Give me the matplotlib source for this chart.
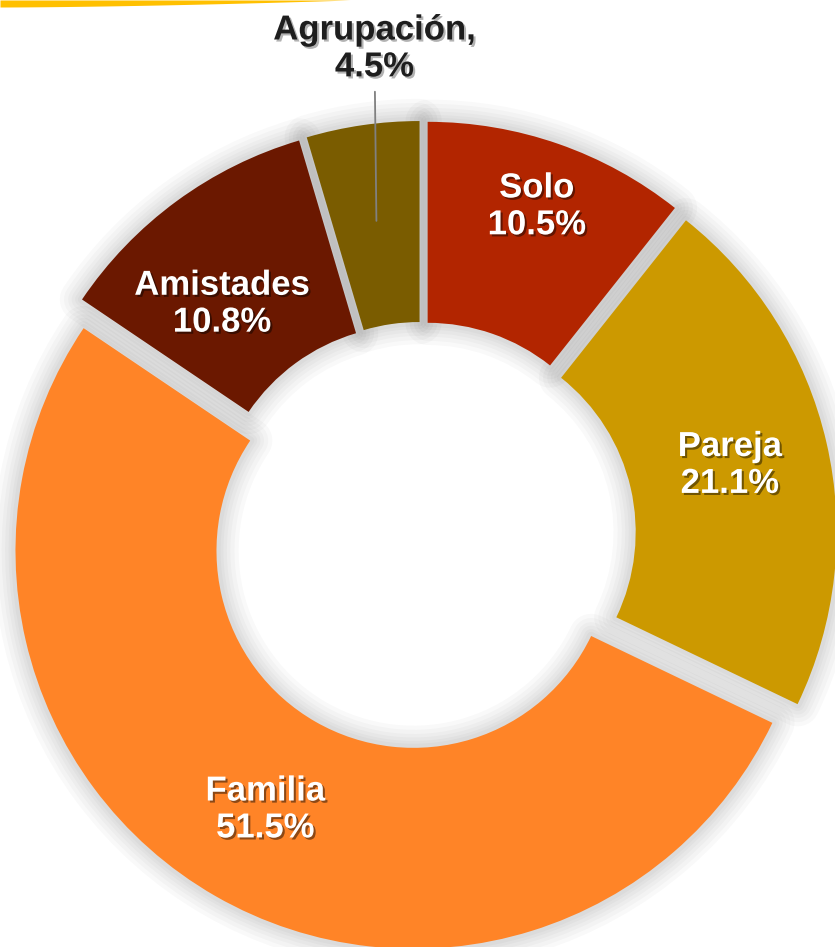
import numpy as np
import matplotlib.pyplot as plt
import matplotlib.patheffects as pe

# Datos
categorias = ["Solo", "Pareja", "Familia", "Amistades", "Agrupación"]
porcentajes = [10.5, 21.1, 51.5, 10.8, 4.5]
colores = ["#B22500", "#CC9900", "#FF8427", "#6B1800", "#7A5C00"]

# posición de cada etiqueta: distancia al centro (en radios) y desfase angular (grados)
dist_etiqueta = [0.877, 0.794, 0.792, 0.77, 0.80]
desfase_ang = [0, 0, 0, 4.5, 0]

plt.rcParams["font.family"] = ["Liberation Sans", "DejaVu Sans"]

fig = plt.figure(figsize=(8.35, 9.47), dpi=100)
ax = fig.add_axes([0, 0, 1, 1])

explode = [0.043] * len(porcentajes)
ancho = 0.505

# capa de sombra difusa
sombra, _ = ax.pie(porcentajes, startangle=90, counterclock=False, explode=explode,
                   colors=["none"] * len(porcentajes),
                   wedgeprops=dict(width=ancho, edgecolor="none"))
efectos = [pe.Stroke(linewidth=lw, foreground="black", alpha=0.022, joinstyle="round")
           for lw in (32, 26, 20, 15, 10, 6)]
for w in sombra:
    w.set_path_effects(efectos)
    w.set_zorder(1)

cunas, _ = ax.pie(porcentajes, startangle=90, counterclock=False, explode=explode,
                  colors=colores, wedgeprops=dict(width=ancho, edgecolor="none"))
for w in cunas:
    w.set_zorder(2)

sombra_txt = [pe.SimplePatchShadow(offset=(1.5, -1.5), shadow_rgbFace="black", alpha=0.45),
              pe.Normal()]

for i, w in enumerate(cunas):
    ang = np.deg2rad((w.theta1 + w.theta2) / 2 + desfase_ang[i])
    r = dist_etiqueta[i]
    x = r * np.cos(ang)
    y = r * np.sin(ang)
    if categorias[i] == "Agrupación":
        # etiqueta fuera con línea guía
        ax.annotate(f"{categorias[i]},\n{porcentajes[i]}%", xy=(x, y),
                    xytext=(x - 0.005, 1.225), ha="center", va="center",
                    fontsize=25, fontweight="bold", color="#1E1E1E",
                    linespacing=1.15, zorder=5,
                    path_effects=[pe.SimplePatchShadow(offset=(1.5, -1.5),
                                                       shadow_rgbFace="black", alpha=0.3),
                                  pe.Normal()],
                    arrowprops=dict(arrowstyle="-", color="#808080", lw=1.3,
                                    shrinkA=4, shrinkB=0))
    else:
        ax.text(x, y, f"{categorias[i]}\n{porcentajes[i]}%", ha="center", va="center",
                fontsize=25, fontweight="bold", color="white", linespacing=1.15,
                zorder=5, path_effects=sombra_txt)

ax.set_xlim(-1.0603, 1.0377)
ax.set_ylim(-1.0327, 1.3467)
ax.set_aspect("auto")
ax.axis("off")

# franja amarilla decorativa arriba a la izquierda
deco = fig.add_axes([0, 0, 1, 1], zorder=10)
deco.set_xlim(0, 835)
deco.set_ylim(947, 0)
deco.axis("off")
xs = np.linspace(0, 350, 100)
deco.fill_between(xs, 0, 7 * (1 - (xs / 350) ** 1.6), color="#FFC000", lw=0)

fig.savefig("out.png", dpi=100)
